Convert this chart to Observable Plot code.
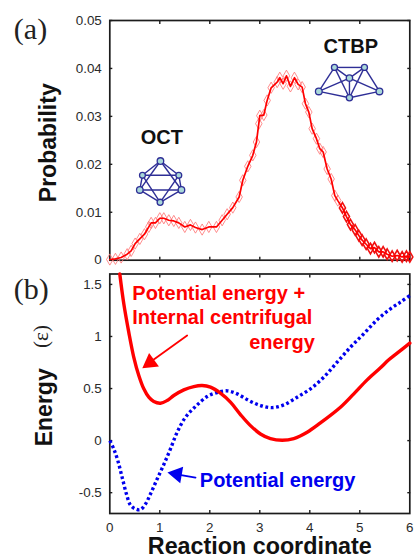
<!DOCTYPE html>
<html><head><meta charset="utf-8">
<script src="https://cdn.jsdelivr.net/npm/d3@7"></script>
<script src="https://cdn.jsdelivr.net/npm/@observablehq/plot@0.6"></script>
<style>
html,body{margin:0;padding:0;background:#fff;overflow:hidden}
#a,#b{position:absolute;left:0}
#a{top:0}#b{top:265px}
svg{display:block;background:transparent}
</style></head><body><div id="a"></div><div id="b"></div>
<script>
const probX=[0,.113,.227,.347,.427,.507,.6,.693,.78,.827,.913,1,1.08,1.18,1.28,1.38,1.5,1.613,1.713,1.847,1.98,2.133,2.247,2.347,2.46,2.587,2.66,2.76,2.86,2.933,2.98,3,3.08,3.147,3.227,3.347,3.4,3.467,3.533,3.613,3.693,3.767,3.847,3.913,3.98,4.047,4.133,4.2,4.267,4.347,4.427,4.5,4.56,4.653,4.733,4.813,4.907,4.98,5.047,5.127,5.213,5.293,5.38,5.467,5.547,5.647,5.747,5.847,5.933,6];
const probY=[.00014,.00028,.00056,.00125,.00194,.00347,.00444,.00542,.00694,.00778,.00778,.00875,.00875,.00833,.00819,.00778,.00694,.00736,.00681,.00639,.00694,.00694,.00833,.00958,.01097,.01319,.01667,.01958,.02188,.02465,.02847,.03014,.03028,.03333,.03597,.03715,.03806,.03681,.03847,.03625,.03806,.03667,.03611,.03264,.0309,.02743,.02535,.02326,.02257,.01903,.01694,.01347,.01243,.0109,.0091,.00743,.00632,.00514,.00417,.00333,.00243,.00264,.00174,.00174,.00125,.00083,.00097,.00069,.00083,.00069];
const totalX=[.2,.28,.38,.48,.58,.68,.78,.88,1.013,1.147,1.28,1.48,1.68,1.847,2.013,2.213,2.413,2.613,2.813,3.013,3.213,3.447,3.68,3.947,4.213,4.613,4.88,5.147,5.413,5.58,5.747,6];
const totalY=[1.6,1.314,1.04,.8,.625,.497,.417,.375,.359,.385,.433,.487,.519,.529,.513,.455,.369,.25,.144,.064,.019,.003,.019,.08,.17,.32,.449,.583,.699,.776,.84,.936];
const potX=[0,.08,.16,.247,.333,.413,.513,.613,.713,.813,.947,1.08,1.213,1.347,1.513,1.713,1.947,2.147,2.347,2.547,2.78,3.013,3.247,3.48,3.747,4.013,4.28,4.547,4.813,5.08,5.347,5.613,5.813,6];
const potY=[0,-.08,-.192,-.353,-.513,-.619,-.657,-.663,-.609,-.513,-.369,-.23,-.08,.08,.224,.327,.423,.462,.478,.449,.385,.337,.317,.343,.417,.497,.609,.753,.897,1.026,1.16,1.266,1.33,1.394];
const xTicks=[0,1,2,3,4,5,6];
const probTicks=[0,.01,.02,.03,.04,.05];
const probLabels=["0","0.01","0.02","0.03","0.04","0.05"];
const energyTicks=[-.5,0,.5,1,1.5];
const energyLabels=["-0.5","0","0.5","1","1.5"];
const octX=[1.013,.653,1.38,.6,1.433,1.007];
const octY=[.02069,.01771,.01771,.01465,.01465,.01208];
const octR=[4,3.2,3.2,4,4,3.4];
const octEdges=[[0,1],[0,2],[0,3],[0,4],[1,2],[3,4],[1,3],[2,4],[1,5],[2,5],[3,5],[4,5]];
const ctbpX=[4.493,5.093,4.793,4.18,5.393,4.793];
const ctbpY=[.04021,.04021,.03799,.03521,.03521,.03389];
const ctbpR=[3.4,3.4,3.8,4.2,4.2,3.6];
const ctbpEdges=[[0,1],[0,2],[1,2],[0,3],[1,4],[2,3],[2,4],[2,5],[3,5],[4,5],[0,5],[1,5]];
const sans="'Liberation Sans',Arial,sans-serif", serif="'Liberation Serif',serif";
const INK="#1c1c1c", NODE="#a9d8d8", BOND="#2e2e96";
const zip=(a,b)=>a.map((x,i)=>({x,y:b[i]}));
const prob=zip(probX,probY), total=zip(totalX,totalY), pot=zip(potX,potY);

function mol(xs,ys,rs,edges){return [
  Plot.link(edges,{x1:e=>xs[e[0]],y1:e=>ys[e[0]],x2:e=>xs[e[1]],y2:e=>ys[e[1]],stroke:BOND,strokeWidth:1.4}),
  Plot.dot(xs.map((x,i)=>({x,y:ys[i],r:rs[i]})),{x:"x",y:"y",r:"r",fill:NODE,stroke:BOND,strokeWidth:1.3})
];}
function frameTicks(yTicks,labels){return [
  Plot.axisX({anchor:"bottom",ticks:xTicks.slice(1,-1),tickSize:-3,tickFormat:()=>"",label:null,stroke:INK,strokeWidth:1.4}),
  Plot.axisX({anchor:"top",ticks:xTicks.slice(1,-1),tickSize:-3,tickFormat:()=>"",label:null,stroke:INK,strokeWidth:1.4}),
  Plot.axisY({anchor:"left",ticks:yTicks,tickSize:-3,tickFormat:()=>"",label:null,stroke:INK,strokeWidth:1.4}),
  Plot.axisY({anchor:"right",ticks:yTicks,tickSize:-3,tickFormat:()=>"",label:null,stroke:INK,strokeWidth:1.4}),
  Plot.text(yTicks,{x:0,y:d=>d,text:(d,i)=>labels[i],textAnchor:"end",dx:-8,fontSize:13.4,fill:"#2a2a2a"}),
  Plot.frame({stroke:INK,strokeWidth:1.7})
];}
const txt=(s,x,y,o)=>Plot.text([s],{x:[x],y:[y],text:d=>d,fontFamily:sans,fontWeight:"bold",fontSize:20,lineAnchor:"bottom",...o});

const plotA=Plot.plot({
  width:414,height:280,marginLeft:109.3,marginRight:4.7,marginTop:20,marginBottom:20.3,
  style:{fontFamily:sans,background:"transparent"},
  x:{domain:[0,6],axis:null},y:{domain:[0,.05],axis:null},
  marks:[
    ...frameTicks(probTicks,probLabels),
    Plot.dot(prob.filter(d=>d.x<4.6),{x:"x",y:"y",symbol:"diamond",r:3.4,stroke:"#ff7070",strokeWidth:.8}),
    Plot.dot(prob.filter(d=>d.x>=4.6),{x:"x",y:"y",symbol:"diamond",r:3.2,stroke:"#f01010",strokeWidth:1.6}),
    Plot.line(prob,{x:"x",y:"y",stroke:"#ff0000",strokeWidth:1.7}),
    ...mol(octX,octY,octR,octEdges),
    ...mol(ctbpX,ctbpY,ctbpR,ctbpEdges),
    txt("OCT",1.04,.02425,{fill:"#111"}),
    txt("CTBP",4.82,.0433,{fill:"#111"}),
    Plot.text(["(a)"],{x:[-1.586],y:[.0481],text:d=>d,fontFamily:serif,fontSize:30,fill:"#222",lineAnchor:"middle"}),
    Plot.text(["Probability"],{x:[-1.22],y:[.0245],text:d=>d,rotate:-90,fontWeight:"bold",fontSize:23,fontFamily:sans,fill:"#111"})
  ]
});
const plotB=Plot.plot({
  width:414,height:293,marginLeft:109.3,marginRight:4.7,marginTop:8.5,marginBottom:45,
  style:{fontFamily:sans,background:"transparent"},
  x:{domain:[0,6],axis:null},y:{domain:[-.7,1.6],axis:null},
  marks:[
    ...frameTicks(energyTicks,energyLabels),
    Plot.text(xTicks,{x:d=>d,y:-.7,text:d=>String(d),dy:14,fontSize:13.4,fill:"#2a2a2a"}),
    Plot.line(pot,{x:"x",y:"y",stroke:"#0000ee",strokeWidth:3.4,strokeDasharray:"2.8 2.6",strokeLinecap:"butt",curve:"catmull-rom"}),
    Plot.line(total,{x:"x",y:"y",stroke:"#ff0000",strokeWidth:3.4,curve:"catmull-rom"}),
    Plot.line([{x:1.547,y:1.01},{x:.81,y:.755}],{x:"x",y:"y",stroke:"#ff0000",strokeWidth:1.8}),
    Plot.dot([{x:.806,y:.75}],{x:"x",y:"y",symbol:"triangle",r:6.2,rotate:234,fill:"#ff0000",stroke:"none"}),
    Plot.line([{x:1.714,y:-.356},{x:1.34,y:-.325}],{x:"x",y:"y",stroke:"#0000ee",strokeWidth:1.8}),
    Plot.dot([{x:1.343,y:-.323}],{x:"x",y:"y",symbol:"triangle",r:6.2,rotate:-80,fill:"#0000ee",stroke:"none"}),
    txt("Potential energy +",.45,1.35,{textAnchor:"start",fill:"#ff0000"}),
    txt("Internal centrifugal",.45,1.12,{textAnchor:"start",fill:"#ff0000"}),
    txt("energy",4.1,.88,{textAnchor:"end",fill:"#ff0000"}),
    txt("Potential energy",1.8,-.45,{textAnchor:"start",fill:"#0000ee"}),
    Plot.text(["(b)"],{x:[-1.57],y:[1.45],text:d=>d,fontFamily:serif,fontSize:30,fill:"#222",lineAnchor:"middle"}),
    Plot.text(["Energy"],{x:[-1.3],y:[.32],text:d=>d,rotate:-90,fontWeight:"bold",fontSize:23,fontFamily:sans,fill:"#111"}),
    Plot.text(["(ε)"],{x:[-1.366],y:[1.0],text:d=>d,rotate:-90,fontSize:21,fontFamily:serif,fill:"#222"}),
    Plot.text(["Reaction coordinate"],{x:[3],y:[-.7],dy:33.5,text:d=>d,fontWeight:"bold",fontSize:23.3,fontFamily:sans,fill:"#111"})
  ]
});
document.getElementById("a").append(plotA);
document.getElementById("b").append(plotB);
</script></body></html>
